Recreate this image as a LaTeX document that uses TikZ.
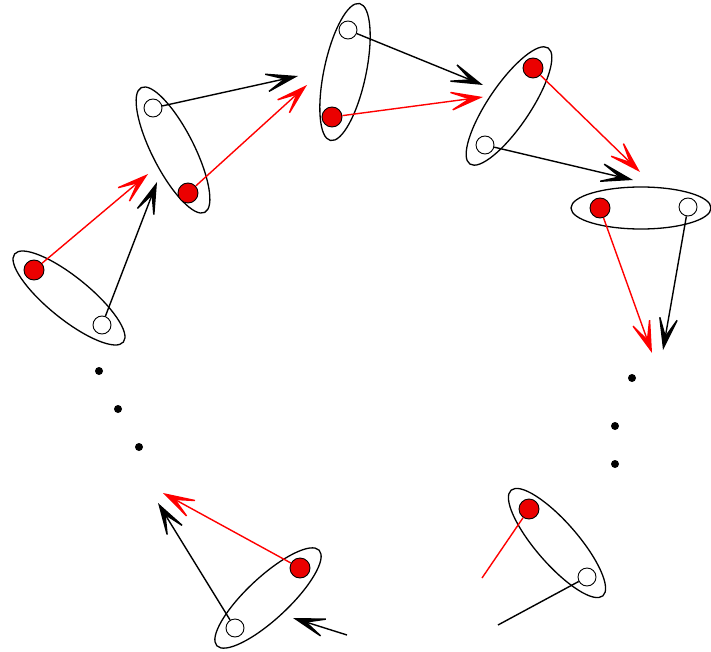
\documentclass[tikz,border=0pt]{standalone}
\usetikzlibrary{arrows.meta,shapes.geometric}
\begin{document}
\begin{tikzpicture}[
      x=1pt, y=-1pt,
      paar/.style={draw, ellipse, line width=1.3pt, minimum width=140pt, minimum height=42pt, inner sep=0pt},
      rot/.style={circle, draw, fill=red!92!black, line width=0.9pt, minimum size=20pt, inner sep=0pt},
      weiss/.style={circle, draw, fill=white, line width=0.9pt, minimum size=18pt, inner sep=0pt},
      punkt/.style={circle, fill=black, minimum size=8pt, inner sep=0pt},
      pfeil/.style={arrows={-Stealth[length=40pt, width=24pt, inset=25pt]}, line width=1.4pt},
      pfeilrot/.style={pfeil, red}
    ]
      \useasboundingbox (0,0) rectangle (711,652);
      \node[paar, rotate=-39] (e1) at (69,298) {};
      \node[paar, rotate=-63] (e2) at (173,150) {};
      \node[paar, rotate=78] (e3) at (345,72) {};
      \node[paar, rotate=56] (e4) at (509,106) {};
      \node[paar] (e5) at (641,208) {};
      \node[paar, rotate=-49] (e6) at (557,543) {};
      \node[paar, rotate=43] (e7) at (268,598) {};
      \node[rot] (r1) at (34,270) {};
      \node[weiss] (w1) at (102,325) {};
      \node[weiss] (w2) at (153,108) {};
      \node[rot] (r2) at (188,193) {};
      \node[weiss] (w3) at (348,30) {};
      \node[rot] (r3) at (332,117) {};
      \node[rot] (r4) at (533,68) {};
      \node[weiss] (w4) at (485,145) {};
      \node[rot] (r5) at (600,208) {};
      \node[weiss] (w5) at (688,207) {};
      \node[rot] (r6) at (529,509) {};
      \node[weiss] (w6) at (587,577) {};
      \node[rot] (r7) at (300,568) {};
      \node[weiss] (w7) at (235,628) {};
      \coordinate (tr1) at (148,174);
      \coordinate (tw1) at (157,182);
      \coordinate (tr2) at (307,85);
      \coordinate (tw2) at (298,76);
      \coordinate (tr3) at (483,97);
      \coordinate (tw3) at (483,85);
      \coordinate (tr4) at (640,172);
      \coordinate (tw4) at (633,180);
      \coordinate (tr5) at (652,353);
      \coordinate (tw5) at (663,350);
      \coordinate (er6) at (482,578);
      \coordinate (ew6) at (498,625);
      \coordinate (tr7) at (163,493);
      \coordinate (tw7) at (158,503);
      \coordinate (ein) at (347,635);
      \coordinate (tein) at (293,618);
      \draw[pfeilrot] (r1) -- (tr1);
      \draw[pfeil] (w1) -- (tw1);
      \draw[pfeilrot] (r2) -- (tr2);
      \draw[pfeil] (w2) -- (tw2);
      \draw[pfeilrot] (r3) -- (tr3);
      \draw[pfeil] (w3) -- (tw3);
      \draw[pfeilrot] (r4) -- (tr4);
      \draw[pfeil] (w4) -- (tw4);
      \draw[pfeilrot] (r5) -- (tr5);
      \draw[pfeil] (w5) -- (tw5);
      \draw[red, line width=1.4pt] (r6) -- (er6);
      \draw[line width=1.4pt] (w6) -- (ew6);
      \draw[pfeilrot] (r7) -- (tr7);
      \draw[pfeil] (w7) -- (tw7);
      \draw[pfeil] (ein) -- (tein);
      \node[punkt] (p1) at (99,371) {};
      \node[punkt] (p2) at (118,409) {};
      \node[punkt] (p3) at (139,447) {};
      \node[punkt] (p4) at (632,378) {};
      \node[punkt] (p5) at (615,426) {};
      \node[punkt] (p6) at (615,464) {};
    \end{tikzpicture}
\end{document}
